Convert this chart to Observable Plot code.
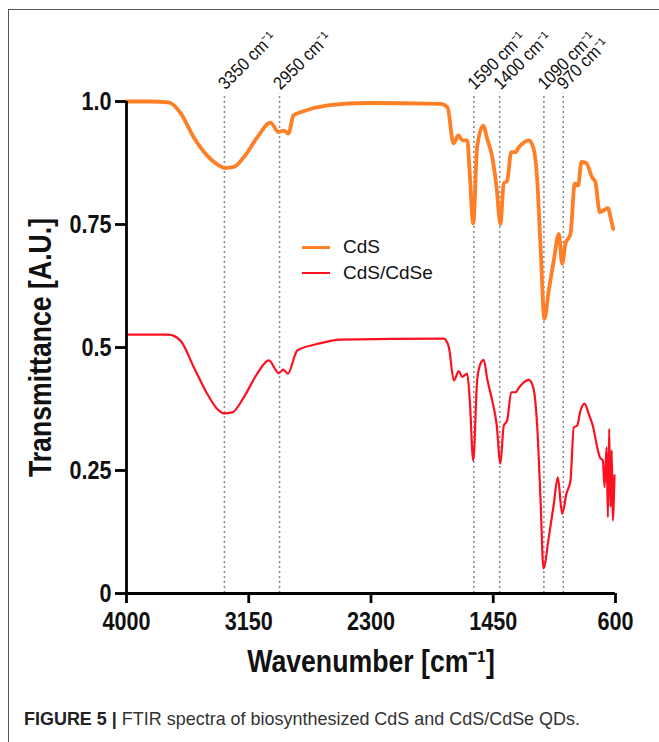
<!DOCTYPE html>
<html><head><meta charset="utf-8">
<script src="https://cdn.jsdelivr.net/npm/d3@7"></script>
<script src="https://cdn.jsdelivr.net/npm/@observablehq/plot@0.6"></script>
<style>
html,body{margin:0;padding:0;background:#fff;overflow:hidden}
#wrap{position:relative;width:659px;height:742px;overflow:hidden;background:#fff}
#frame{position:absolute;left:8px;top:9px;width:720px;height:800px;border:1px solid #555;box-sizing:border-box}
#chart{position:absolute;left:0;top:0}
#chart svg{overflow:visible}
.leg{position:absolute;left:302px;font:19px "Liberation Sans",Arial,sans-serif;color:#111;display:flex;align-items:center;height:22px}
.leg i{display:inline-block;width:28px;height:0;border-top:3.5px solid;margin-right:13px}
#caption{position:absolute;left:24px;top:708px;font:19px "Liberation Sans",Arial,sans-serif;color:#333;white-space:nowrap;transform-origin:0 0;display:inline-block}
#caption b{color:#222}
g[aria-label="x-axis tick label"] text, g[aria-label="y-axis tick label"] text{font-family:"Liberation Sans",Arial,sans-serif;font-weight:bold;font-size:26px;fill:#111}
g[aria-label="x-axis label"] text, g[aria-label="y-axis label"] text{font-family:"Liberation Sans",Arial,sans-serif;font-weight:bold;font-size:31px;fill:#111}
</style>
</head><body>
<div id="wrap">
  <div id="frame"></div>
  <div id="chart"></div>
  <div class="leg" style="top:236px"><i style="border-color:#ff7f27"></i>CdS</div>
  <div class="leg" style="top:262px"><i style="border-color:#ff1020;border-top-width:2.5px"></i>CdS/CdSe</div>
  <div id="caption"><b>FIGURE 5 |</b> FTIR spectra of biosynthesized CdS and CdS/CdSe QDs.</div>
</div>
<script>
// Tick values
const xTicks = [4000, 3150, 2300, 1450, 600];
const yTicks = [0, 0.25, 0.5, 0.75, 1.0];
const yTickLabels = ["0", "0.25", "0.5", "0.75", "1.0"];

// Marked band positions and their labels
const peakWN = [3319, 2936, 1585, 1405, 1098, 963];
const peakLabels = ["3350 cm⁻¹", "2950 cm⁻¹", "1590 cm⁻¹", "1400 cm⁻¹", "1090 cm⁻¹", "970 cm⁻¹"];

// CdS spectrum (orange)
const cdsWN = [4000, 3833, 3708, 3625, 3532, 3439, 3369, 3312, 3254, 3184, 3091, 2999, 2943, 2908, 2874, 2839, 2790, 2602, 2324, 1817, 1768, 1727, 1692, 1664, 1630, 1616, 1589, 1562, 1520, 1492, 1457, 1427, 1400, 1377, 1353, 1325, 1295, 1272, 1249, 1203, 1172, 1144, 1121, 1094, 1064, 1029, 994, 971, 948, 913, 883, 860, 837, 804, 763, 740, 709, 681, 651, 635, 616];
const cdsT = [1.0, 1.0, 0.998, 0.977, 0.927, 0.890, 0.872, 0.865, 0.867, 0.887, 0.927, 0.957, 0.938, 0.941, 0.935, 0.972, 0.978, 0.992, 0.997, 0.995, 0.988, 0.915, 0.931, 0.921, 0.921, 0.866, 0.752, 0.907, 0.951, 0.924, 0.887, 0.826, 0.751, 0.833, 0.839, 0.897, 0.897, 0.907, 0.914, 0.921, 0.907, 0.839, 0.704, 0.558, 0.616, 0.677, 0.731, 0.670, 0.711, 0.731, 0.833, 0.829, 0.877, 0.875, 0.846, 0.836, 0.775, 0.779, 0.783, 0.765, 0.741];

// CdS/CdSe spectrum (red)
const cdseWN = [3986, 3708, 3625, 3532, 3439, 3369, 3323, 3265, 3184, 3091, 3011, 2941, 2910, 2878, 2813, 2674, 2512, 1794, 1759, 1724, 1689, 1666, 1631, 1613, 1589, 1562, 1539, 1516, 1492, 1457, 1427, 1400, 1377, 1353, 1325, 1295, 1272, 1249, 1203, 1172, 1144, 1121, 1101, 1064, 1029, 1001, 971, 941, 913, 890, 867, 843, 815, 786, 755, 727, 709, 688, 676, 662, 653, 644, 635, 626, 619, 607];
const cdseT = [0.526, 0.526, 0.514, 0.460, 0.406, 0.375, 0.366, 0.368, 0.399, 0.447, 0.474, 0.448, 0.455, 0.447, 0.494, 0.507, 0.516, 0.518, 0.501, 0.433, 0.452, 0.440, 0.447, 0.392, 0.270, 0.433, 0.467, 0.475, 0.436, 0.392, 0.345, 0.264, 0.341, 0.352, 0.409, 0.409, 0.418, 0.426, 0.434, 0.419, 0.338, 0.189, 0.051, 0.114, 0.182, 0.236, 0.162, 0.203, 0.230, 0.338, 0.341, 0.372, 0.386, 0.365, 0.338, 0.297, 0.277, 0.270, 0.216, 0.297, 0.155, 0.335, 0.176, 0.291, 0.148, 0.240];

const cds = cdsWN.map((w, i) => ({w, t: cdsT[i]}));
const cdse = cdseWN.map((w, i) => ({w, t: cdseT[i]}));

const plot = Plot.plot({
  width: 659,
  height: 700,
  marginLeft: 126,
  marginRight: 44,
  marginTop: 101,
  marginBottom: 107,
  style: {background: "transparent", fontFamily: "'Liberation Sans', Arial, sans-serif"},
  x: {domain: [4000, 600], label: null},
  y: {domain: [0, 1], label: null},
  marks: [
    Plot.ruleX(peakWN, {y1: 0, y2: 1.017, stroke: "#8a8a8a", strokeWidth: 1.6, strokeDasharray: "2,3"}),
    Plot.text(peakWN, {x: d => d, text: (d, i) => peakLabels[i], frameAnchor: "top", dy: -11, dx: 1, rotate: -45, textAnchor: "start", lineAnchor: "bottom", fontSize: 18, fill: "#111", className: "peaklab"}),
    Plot.line(cdse, {x: "w", y: "t", stroke: "#ff1020", strokeWidth: 2.2, curve: "monotone-x"}),
    Plot.line(cds, {x: "w", y: "t", stroke: "#ff7f27", strokeWidth: 3.8, curve: "monotone-x"}),
    Plot.ruleY([0], {stroke: "#000", strokeWidth: 2.8}),
    Plot.ruleX([4000], {stroke: "#000", strokeWidth: 2.8}),
    Plot.axisX({ticks: xTicks, tickSize: 10, tickPadding: 8, strokeWidth: 2.8, stroke: "#000", tickFormat: d => String(d),
      label: "Wavenumber [cm⁻¹]", labelAnchor: "center", labelArrow: "none", labelOffset: 78}),
    Plot.axisY({ticks: yTicks, tickSize: 11, tickPadding: 4, strokeWidth: 2.8, stroke: "#000", tickFormat: (d, i) => yTickLabels[i],
      label: "Transmittance [A.U.]", labelAnchor: "center", labelArrow: "none", labelOffset: 98})
  ]
});
document.getElementById("chart").appendChild(plot);

// Condense glyphs horizontally to match the narrow typeface of the original
function condense(sel, f) {
  plot.querySelectorAll(sel).forEach(t => {
    const w = t.getComputedTextLength();
    t.setAttribute("textLength", (w * f).toFixed(1));
    t.setAttribute("lengthAdjust", "spacingAndGlyphs");
  });
}
condense('g[aria-label="x-axis tick label"] text', 0.83);
condense('g[aria-label="y-axis tick label"] text', 0.83);
condense('g[aria-label="x-axis label"] text', 0.86);
condense('g[aria-label="y-axis label"] text', 0.86);
condense('g.peaklab text', 0.9);

const cap = document.getElementById("caption");
const cw = cap.getBoundingClientRect().width;
cap.style.transform = `scaleX(${556 / cw})`;
</script>
</body></html>
